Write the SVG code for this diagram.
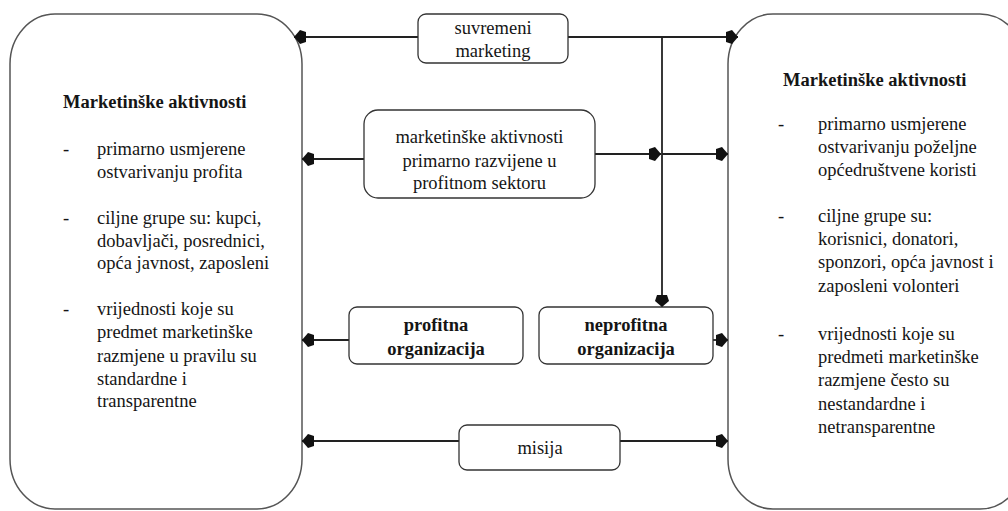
<svg xmlns="http://www.w3.org/2000/svg" width="1008" height="511" viewBox="0 0 1008 511">
<style>
.big{fill:#fff;stroke:#555;stroke-width:1.5}
.box{fill:#fff;stroke:#333;stroke-width:1.3}
.b{font-weight:bold}
.c{text-anchor:middle}
.ln{fill:none;stroke:#222;stroke-width:1.8}
</style>
<defs>
<marker id="ah" viewBox="0 -8 13 16" refX="12" refY="0" markerWidth="13" markerHeight="16" markerUnits="userSpaceOnUse" orient="auto">
<path d="M0,-5 L6,-7 L12,0 L6,7 L0,5 Z" fill="#111"/>
</marker>
</defs>
<rect x="0" y="0" width="1008" height="511" fill="#fff"/>
<g id="left" font-family="Liberation Serif, Times New Roman, serif" font-size="18.5" fill="#151515">
<rect class="big" x="10" y="14" width="292" height="495" rx="45" ry="50"/>
<text class="b" x="63" y="108">Marketinške aktivnosti</text>
<text x="63" y="155">-</text>
<text x="97" y="155">primarno usmjerene</text>
<text x="97" y="178">ostvarivanju profita</text>
<text x="63" y="224">-</text>
<text x="97" y="224">ciljne grupe su: kupci,</text>
<text x="97" y="247">dobavljači, posrednici,</text>
<text x="97" y="269">opća javnost, zaposleni</text>
<text x="63" y="315">-</text>
<text x="97" y="315">vrijednosti koje su</text>
<text x="97" y="338">predmet marketinške</text>
<text x="97" y="362">razmjene u pravilu su</text>
<text x="97" y="385">standardne i</text>
<text x="97" y="407">transparentne</text>
</g>
<g id="right" font-family="Liberation Serif, Times New Roman, serif" font-size="18.5" fill="#151515">
<rect class="big" x="728" y="14" width="297" height="495" rx="45" ry="50"/>
<text class="b" x="783" y="86">Marketinške aktivnosti</text>
<text x="778" y="130">-</text>
<text x="818" y="130">primarno usmjerene</text>
<text x="818" y="153">ostvarivanju poželjne</text>
<text x="818" y="176">općedruštvene koristi</text>
<text x="778" y="222">-</text>
<text x="818" y="222">ciljne grupe su:</text>
<text x="818" y="245">korisnici, donatori,</text>
<text x="818" y="268">sponzori, opća javnost i</text>
<text x="818" y="292">zaposleni volonteri</text>
<text x="778" y="340">-</text>
<text x="818" y="340">vrijednosti koje su</text>
<text x="818" y="363">predmeti marketinške</text>
<text x="818" y="386">razmjene često su</text>
<text x="818" y="410">nestandardne i</text>
<text x="818" y="433">netransparentne</text>
</g>
<g id="connectors">
<line class="ln" x1="418" y1="37" x2="294" y2="37" marker-end="url(#ah)"/>
<line class="ln" x1="568" y1="37" x2="738" y2="37" marker-end="url(#ah)"/>
<line class="ln" x1="662" y1="37" x2="662" y2="307" marker-end="url(#ah)"/>
<line class="ln" x1="364" y1="159" x2="302" y2="159" marker-end="url(#ah)"/>
<line class="ln" x1="595" y1="154" x2="661" y2="154" marker-end="url(#ah)"/>
<line class="ln" x1="662" y1="154" x2="728" y2="154" marker-end="url(#ah)"/>
<line class="ln" x1="349" y1="340" x2="302" y2="340" marker-end="url(#ah)"/>
<line class="ln" x1="713" y1="340" x2="728" y2="340" marker-end="url(#ah)"/>
<line class="ln" x1="459" y1="441" x2="302" y2="441" marker-end="url(#ah)"/>
<line class="ln" x1="620" y1="441" x2="728" y2="441" marker-end="url(#ah)"/>
</g>
<g id="suvremeni" font-family="Liberation Serif, Times New Roman, serif" font-size="18.5" fill="#151515">
<rect class="box" x="418" y="14" width="150" height="49" rx="8"/>
<text class="c" x="493" y="34">suvremeni</text>
<text class="c" x="493" y="57">marketing</text>
</g>
<g id="razvijene" font-family="Liberation Serif, Times New Roman, serif" font-size="18.5" fill="#151515">
<rect class="box" x="364" y="110" width="231" height="88" rx="14"/>
<text class="c" x="479.5" y="143">marketinške aktivnosti</text>
<text class="c" x="479.5" y="167">primarno razvijene u</text>
<text class="c" x="479.5" y="189">profitnom sektoru</text>
</g>
<g id="profitna" font-family="Liberation Serif, Times New Roman, serif" font-size="18.5" fill="#151515">
<rect class="box" x="349" y="307" width="174" height="57" rx="8"/>
<text class="b c" x="436" y="331">profitna</text>
<text class="b c" x="436" y="355">organizacija</text>
</g>
<g id="neprofitna" font-family="Liberation Serif, Times New Roman, serif" font-size="18.5" fill="#151515">
<rect class="box" x="539" y="307" width="174" height="57" rx="8"/>
<text class="b c" x="626" y="331">neprofitna</text>
<text class="b c" x="626" y="355">organizacija</text>
</g>
<g id="misija" font-family="Liberation Serif, Times New Roman, serif" font-size="18.5" fill="#151515">
<rect class="box" x="459" y="425" width="161" height="45" rx="8"/>
<text class="c" x="540" y="454">misija</text>
</g>
</svg>
